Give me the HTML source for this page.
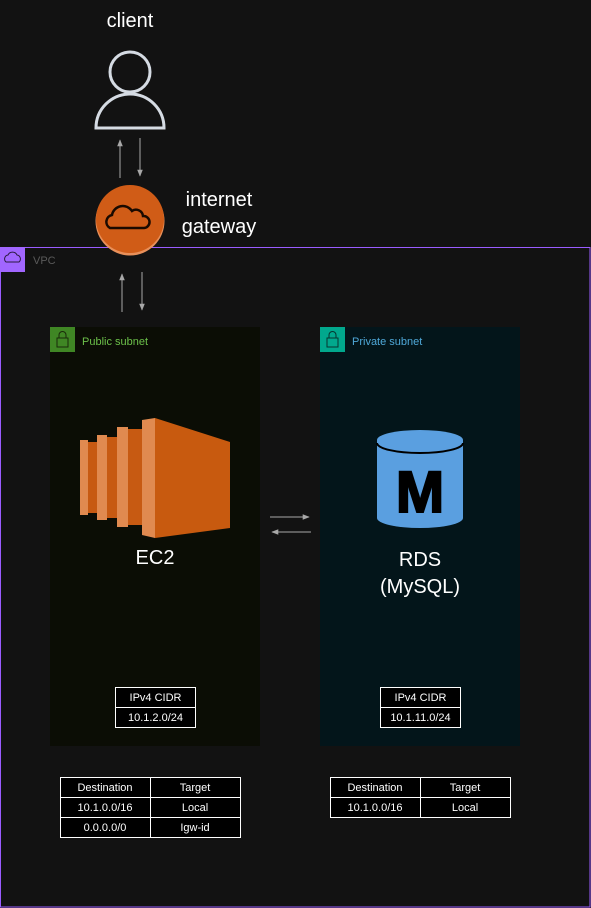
<!DOCTYPE html>
<html><head><meta charset="utf-8"><style>
html,body{margin:0;padding:0;background:#121212;}
svg{display:block;font-family:"Liberation Sans",Arial,sans-serif;}
</style></head><body>
<svg width="591" height="908" viewBox="0 0 591 908" xmlns="http://www.w3.org/2000/svg">
<defs>
<marker id="ah" viewBox="0 0 10 10" refX="9" refY="5" markerWidth="7" markerHeight="7" orient="auto-start-reverse"><path d="M0,1 L10,5 L0,9 z" fill="#a8a8a8"/></marker>
</defs>
<rect width="591" height="908" fill="#121212"/>
<!-- VPC -->
<rect x="0.5" y="247.5" width="589.5" height="659.5" fill="none" stroke="#9a5cff" stroke-width="1"/>
<rect x="0" y="247" width="25" height="25" fill="#a166ff"/>
<path d="M6,262 a4,4 0 0 1 2,-7 a5,5 0 0 1 9,0 a4,4 0 0 1 2,7 z" fill="none" stroke="#2a1a40" stroke-width="1"/>
<text x="33" y="264" font-size="11" fill="#5a5a5a">VPC</text>
<!-- subnets -->
<rect x="50" y="327" width="210" height="419" fill="#0b0d05"/>
<rect x="50" y="327" width="25" height="25" fill="#3f8624"/>
<rect x="57" y="338" width="11" height="9" fill="none" stroke="#1a2a0a" stroke-width="1"/>
<path d="M59,338 v-3 a3.5,3.5 0 0 1 7,0 v3" fill="none" stroke="#1a2a0a"/>
<text x="82" y="345" font-size="11" fill="#6cc04a">Public subnet</text>
<rect x="320" y="327" width="200" height="419" fill="#03151a"/>
<rect x="320" y="327" width="25" height="25" fill="#01a88d"/>
<rect x="327" y="338" width="11" height="9" fill="none" stroke="#06352f" stroke-width="1"/>
<path d="M329,338 v-3 a3.5,3.5 0 0 1 7,0 v3" fill="none" stroke="#06352f"/>
<text x="352" y="345" font-size="11" fill="#4fa8d8">Private subnet</text>
<!-- client -->
<text x="130" y="27" font-size="20" fill="#ffffff" text-anchor="middle">client</text>
<circle cx="130" cy="72" r="20" fill="none" stroke="#d5dbe3" stroke-width="3"/>
<path d="M96,128 a34,34 0 0 1 68,0 z" fill="none" stroke="#d5dbe3" stroke-width="3"/>
<line x1="120" y1="178" x2="120" y2="140" stroke="#a8a8a8" marker-end="url(#ah)"/>
<line x1="140" y1="138" x2="140" y2="176" stroke="#a8a8a8" marker-end="url(#ah)"/>
<!-- gateway -->
<circle cx="130" cy="221" r="34.5" fill="#e8905a"/>
<circle cx="130" cy="219" r="34" fill="#d05c17"/>
<path d="M110,228 a7,7 0 0 1 2,-13 a11,11 0 0 1 20,-4 a7,7 0 0 1 11,5 a6,6 0 0 1 1,12 z" fill="none" stroke="#1a0a00" stroke-width="2.5"/>
<text x="219" y="206" font-size="20" fill="#ffffff" text-anchor="middle">internet</text>
<text x="219" y="233" font-size="20" fill="#ffffff" text-anchor="middle">gateway</text>
<line x1="122" y1="312" x2="122" y2="274" stroke="#a8a8a8" marker-end="url(#ah)"/>
<line x1="142" y1="272" x2="142" y2="310" stroke="#a8a8a8" marker-end="url(#ah)"/>
<!-- EC2 -->
<rect x="80" y="440" width="8" height="75" fill="#e08a50"/><rect x="88" y="442" width="9" height="71" fill="#c75a12"/>
<rect x="97" y="435" width="10" height="85" fill="#e08a50"/><rect x="107" y="437" width="10" height="81" fill="#c75a12"/>
<rect x="117" y="427" width="11" height="100" fill="#e08a50"/><rect x="128" y="429" width="14" height="96" fill="#c75a12"/>
<polygon points="142,420 155,418 155,538 142,535" fill="#e08a50"/>
<polygon points="155,418 230,442 230,528 155,538" fill="#c85a0f"/>
<text x="155" y="564" font-size="20" fill="#ffffff" text-anchor="middle">EC2</text>
<!-- RDS -->
<path d="M377,440 v78 a43,10 0 0 0 86,0 v-78 z" fill="#5a9fe0"/>
<ellipse cx="420" cy="440" rx="43" ry="10" fill="#5a9fe0"/>
<path d="M377,443 a43,10 0 0 0 86,0" fill="none" stroke="#000" stroke-width="2"/>
<text x="420" y="512" font-size="58" font-weight="bold" fill="#000" stroke="#000" stroke-width="2" text-anchor="middle">M</text>
<text x="420" y="566" font-size="20" fill="#ffffff" text-anchor="middle">RDS</text>
<text x="420" y="593" font-size="20" fill="#ffffff" text-anchor="middle">(MySQL)</text>
<!-- middle arrows -->
<line x1="270" y1="517" x2="309" y2="517" stroke="#a8a8a8" marker-end="url(#ah)"/>
<line x1="311" y1="532" x2="272" y2="532" stroke="#a8a8a8" marker-end="url(#ah)"/>
<!-- CIDR boxes -->
<g font-size="11" fill="#ffffff" text-anchor="middle" stroke="none">
<rect x="115.5" y="687.5" width="80" height="40" fill="#000" stroke="#fff"/>
<line x1="115.5" y1="707.5" x2="195.5" y2="707.5" stroke="#fff"/>
<text x="155.5" y="701">IPv4 CIDR</text><text x="155.5" y="721">10.1.2.0/24</text>
<rect x="380.5" y="687.5" width="80" height="40" fill="#000" stroke="#fff"/>
<line x1="380.5" y1="707.5" x2="460.5" y2="707.5" stroke="#fff"/>
<text x="420.5" y="701">IPv4 CIDR</text><text x="420.5" y="721">10.1.11.0/24</text>
<!-- route tables -->
<rect x="60.5" y="777.5" width="180" height="60" fill="#000" stroke="#fff"/>
<line x1="60.5" y1="797.5" x2="240.5" y2="797.5" stroke="#fff"/>
<line x1="60.5" y1="817.5" x2="240.5" y2="817.5" stroke="#fff"/>
<line x1="150.5" y1="777.5" x2="150.5" y2="837.5" stroke="#fff"/>
<text x="105" y="791">Destination</text><text x="195" y="791">Target</text>
<text x="105" y="811">10.1.0.0/16</text><text x="195" y="811">Local</text>
<text x="105" y="831">0.0.0.0/0</text><text x="195" y="831">Igw-id</text>
<rect x="330.5" y="777.5" width="180" height="40" fill="#000" stroke="#fff"/>
<line x1="330.5" y1="797.5" x2="510.5" y2="797.5" stroke="#fff"/>
<line x1="420.5" y1="777.5" x2="420.5" y2="817.5" stroke="#fff"/>
<text x="375" y="791">Destination</text><text x="465" y="791">Target</text>
<text x="375" y="811">10.1.0.0/16</text><text x="465" y="811">Local</text>
</g>
</svg>
</body></html>
